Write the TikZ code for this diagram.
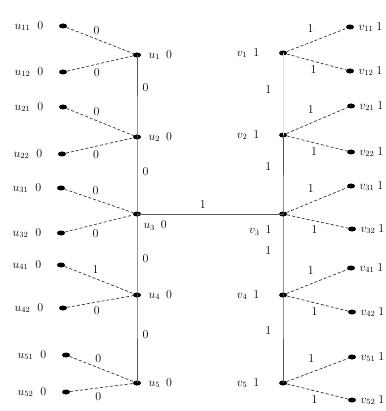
\documentclass[tikz,border=0pt]{standalone}
\usepackage{amsmath, amssymb}
\usepackage{tikz}
\usepackage{xcolor}
\usetikzlibrary{shapes.geometric}

\begin{document}
\begin{tikzpicture}[x=1pt,y=-1pt,
    every node/.style={font=\fontsize{12}{14}\selectfont},
    dot/.style={ellipse,fill=black,inner sep=0pt,minimum width=8pt,minimum height=5pt},
    tree/.style={draw=black!65,line width=0.8pt},
    leaf/.style={draw=black!80,densely dashed,line width=0.7pt}]
      \useasboundingbox (0,0) rectangle (385,411);
      % left tree
      \node [dot,label={[label distance=4pt]right:$u_1$\hspace{6pt}0}] (U1) at (137,55) {};
      \node [dot,label={[label distance=4pt]right:$u_2$\hspace{6pt}0}] (U2) at (137,137) {};
      \node [dot,label={[label distance=1pt]below right:$u_3$\hspace{6pt}0}] (U3) at (137,214) {};
      \node [dot,label={[label distance=4pt]right:$u_4$\hspace{6pt}0}] (U4) at (137,295) {};
      \node [dot,label={[label distance=4pt]right:$u_5$\hspace{6pt}0}] (U5) at (137,383) {};
      \node [dot,label={[label distance=12pt]left:$u_{11}$\hspace{7pt}0}] (U11) at (63,26) {};
      \node [dot,label={[label distance=12pt]left:$u_{12}$\hspace{7pt}0}] (U12) at (63,72) {};
      \node [dot,label={[label distance=12pt]left:$u_{21}$\hspace{7pt}0}] (U21) at (63,107) {};
      \node [dot,label={[label distance=12pt]left:$u_{22}$\hspace{7pt}0}] (U22) at (62,154) {};
      \node [dot,label={[label distance=12pt]left:$u_{31}$\hspace{7pt}0}] (U31) at (61,188) {};
      \node [dot,label={[label distance=12pt]left:$u_{32}$\hspace{7pt}0}] (U32) at (61,233) {};
      \node [dot,label={[label distance=12pt]left:$u_{41}$\hspace{7pt}0}] (U41) at (61,265) {};
      \node [dot,label={[label distance=12pt]left:$u_{42}$\hspace{7pt}0}] (U42) at (63,308) {};
      \node [dot,label={[label distance=12pt]left:$u_{51}$\hspace{7pt}0}] (U51) at (66,355) {};
      \node [dot,label={[label distance=12pt]left:$u_{52}$\hspace{7pt}0}] (U52) at (66,392) {};
      \draw [tree] (U1.center) to node [right=2pt,pos=0.4] {0} (U2.center) to node [right=2pt,pos=0.45] {0} (U3.center)
        to node [right=2pt,pos=0.55] {0} (U4.center) to node [right=2pt,pos=0.45] {0} (U5.center);
      \draw [leaf] (U11) to node [above=1pt,pos=0.45] {0} (U1);
      \draw [leaf] (U12) to node [below=1pt,pos=0.45] {0} (U1);
      \draw [leaf] (U21) to node [above=1pt,pos=0.45] {0} (U2);
      \draw [leaf] (U22) to node [below=1pt,pos=0.45] {0} (U2);
      \draw [leaf] (U31) to node [above=1pt,pos=0.45] {0} (U3);
      \draw [leaf] (U32) to node [below=1pt,pos=0.45] {0} (U3);
      \draw [leaf] (U41) to node [above=1pt,pos=0.45] {1} (U4);
      \draw [leaf] (U42) to node [below=1pt,pos=0.45] {0} (U4);
      \draw [leaf] (U51) to node [above=1pt,pos=0.45] {0} (U5);
      \draw [leaf] (U52) to node [below=1pt,pos=0.45] {0} (U5);
      % right tree
      \node [dot,label={[label distance=16pt]left:$v_1$\hspace{6pt}1}] (V1) at (283,53) {};
      \node [dot,label={[label distance=16pt]left:$v_2$\hspace{6pt}1}] (V2) at (283,135) {};
      \node [dot,label={[label distance=8pt]below left:$v_3$\hspace{6pt}1}] (V3) at (283,214) {};
      \node [dot,label={[label distance=16pt]left:$v_4$\hspace{6pt}1}] (V4) at (283,295) {};
      \node [dot,label={[label distance=16pt]left:$v_5$\hspace{6pt}1}] (V5) at (283,383) {};
      \node [dot,label={[label distance=1pt]right:$v_{11}$\hspace{3pt}1}] (V11) at (350,27) {};
      \node [dot,label={[label distance=1pt]right:$v_{12}$\hspace{3pt}1}] (V12) at (350,71) {};
      \node [dot,label={[label distance=1pt]right:$v_{21}$\hspace{3pt}1}] (V21) at (351,106) {};
      \node [dot,label={[label distance=1pt]right:$v_{22}$\hspace{3pt}1}] (V22) at (351,152) {};
      \node [dot,label={[label distance=1pt]right:$v_{31}$\hspace{3pt}1}] (V31) at (351,186) {};
      \node [dot,label={[label distance=1pt]right:$v_{32}$\hspace{3pt}1}] (V32) at (352,229) {};
      \node [dot,label={[label distance=1pt]right:$v_{41}$\hspace{3pt}1}] (V41) at (351,268) {};
      \node [dot,label={[label distance=1pt]right:$v_{42}$\hspace{3pt}1}] (V42) at (352,312) {};
      \node [dot,label={[label distance=1pt]right:$v_{51}$\hspace{3pt}1}] (V51) at (352,357) {};
      \node [dot,label={[label distance=1pt]right:$v_{52}$\hspace{3pt}1}] (V52) at (352,400) {};
      \draw [tree,draw=black!12] (V1.center) to node [left=8pt,pos=0.45] {1} (V2.center);
      \draw [tree] (V2.center) to node [left=8pt,pos=0.4] {1} (V3.center) to node [left=8pt,pos=0.45] {1} (V4.center)
        to node [left=8pt,pos=0.4] {1} (V5.center);
      \draw [leaf] (V1) to node [above=6pt,pos=0.4] {1} (V11);
      \draw [leaf] (V1) to node [below=1pt,pos=0.45] {1} (V12);
      \draw [leaf] (V2) to node [above=6pt,pos=0.4] {1} (V21);
      \draw [leaf] (V2) to node [below=1pt,pos=0.45] {1} (V22);
      \draw [leaf] (V3) to node [above=6pt,pos=0.4] {1} (V31);
      \draw [leaf] (V3) to node [below=1pt,pos=0.45] {1} (V32);
      \draw [leaf] (V4) to node [above=6pt,pos=0.4] {1} (V41);
      \draw [leaf] (V4) to node [below=1pt,pos=0.45] {1} (V42);
      \draw [leaf] (V5) to node [above=6pt,pos=0.4] {1} (V51);
      \draw [leaf] (V5) to node [below=1pt,pos=0.45] {1} (V52);
      % bridge
      \draw [tree] (U3.center) to node [above=2pt,pos=0.45] {1} (V3.center);
    \end{tikzpicture}
\end{document}
